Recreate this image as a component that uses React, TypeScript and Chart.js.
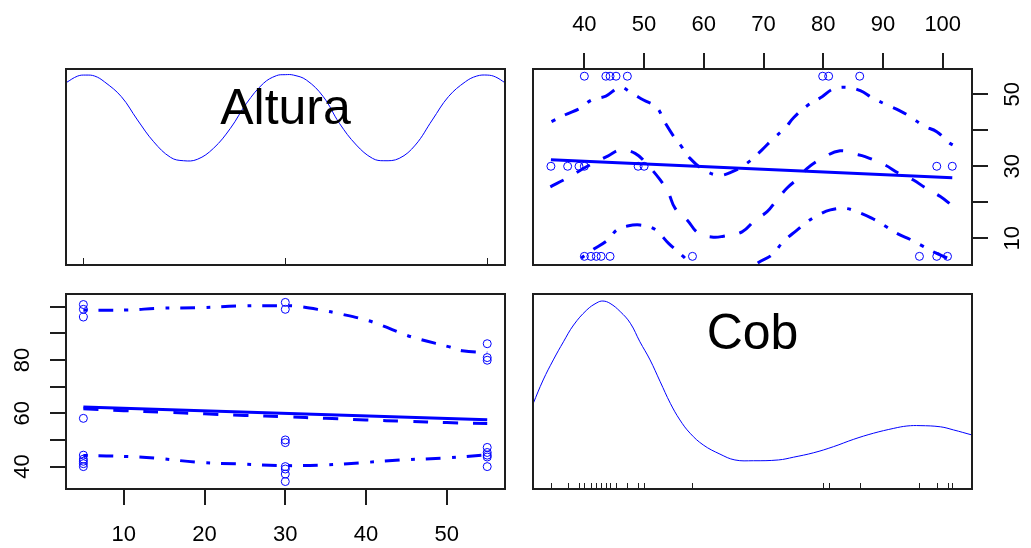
import React, { useEffect, useRef } from "react";
import { Chart, registerables } from "chart.js";

Chart.register(...registerables);

const FONT = "'Liberation Sans', Arial, Helvetica, sans-serif";
const BLUE = "#0000ff";
const INK = "#1e1e1e";

// ---- observations (paired) ----
const altura = [
  5, 5, 5, 5, 5, 5, 5, 5, 5,
  30, 30, 30, 30, 30, 30, 30, 30,
  55, 55, 55, 55, 55, 55, 55, 55,
];
const cob = [
  40.0, 41.1, 42.0, 42.8, 44.3, 58.1, 96.1, 99.0, 100.8,
  34.4, 37.2, 39.1, 40.0, 49.0, 50.0, 99.0, 101.6,
  40.0, 43.6, 44.3, 45.3, 47.2, 79.9, 80.9, 86.1,
];

// ---- tick values / labels ----
const cobTicks = [40, 50, 60, 70, 80, 90, 100];
const cobTopLabels = [40, 50, 60, 70, 80, 90, 100];
const cobLeftLabels = [40, 60, 80];
const alturaTicks = [10, 20, 30, 40, 50];
const alturaBottomLabels = [10, 20, 30, 40, 50];
const alturaRightLabels = [10, 30, 50];

// ---- diagonal: Altura density ----
const alturaDensX = [2.85, 4.3, 5.3, 6.4, 7.6, 9.7, 11.7, 13.7, 15.8, 17.4, 19.1, 21.1, 23.2, 25.2, 27.3, 28.9, 30.0, 31.0, 32.6, 34.7, 36.7, 38.8, 40.8, 42.2, 44.1, 46.1, 48.2, 50.2, 52.3, 53.7, 55.0, 56.0, 57.2];
const alturaDensY = [93.0, 96.4, 96.9, 96.4, 93.5, 85.9, 74.0, 62.9, 54.9, 53.2, 53.9, 59.5, 69.7, 82.5, 92.7, 96.6, 97.1, 96.9, 94.4, 85.9, 72.3, 61.2, 54.4, 53.2, 54.4, 61.2, 74.0, 85.9, 93.5, 96.4, 96.9, 96.0, 93.0];

// ---- diagonal: Cob density ----
const cobDensX = [31.4, 33.1, 34.8, 36.5, 38.2, 40.4, 42.1, 43.1, 44.3, 46.0, 47.7, 49.3, 51.0, 52.7, 54.4, 56.0, 57.7, 59.9, 62.7, 65.2, 68.3, 72.5, 75.0, 78.4, 81.7, 85.1, 88.4, 91.8, 94.0, 96.2, 99.6, 101.8, 104.9];
const cobDensY = [43.6, 55.9, 66.2, 75.5, 84.1, 91.8, 95.5, 96.4, 95.2, 91.0, 85.0, 75.5, 66.2, 55.0, 43.9, 35.4, 28.6, 22.6, 17.9, 14.9, 14.5, 14.9, 16.3, 18.6, 21.7, 25.5, 28.6, 31.1, 32.3, 32.5, 31.9, 30.3, 27.7];

// ---- top-right panel (x = Cob, y = Altura) ----
const trRegCob = [34.4, 101.6];
const trRegAltura = [31.8, 26.8];
const trSmoothCob = [34.3, 37.1, 40.5, 44.0, 46.0, 48.5, 50.5, 52.7, 54.1, 55.2, 57.2, 59.1, 61.6, 63.3, 66.4, 68.6, 70.6, 72.2, 73.9, 76.1, 77.3, 79.8, 82.8, 85.3, 87.0, 90.3, 92.6, 95.1, 97.0, 99.6, 101.8];
const trSmoothAltura = [24.3, 26.7, 30.0, 32.9, 34.5, 33.6, 30.5, 26.2, 22.5, 18.3, 15.1, 11.4, 10.3, 10.6, 11.8, 15.1, 17.4, 20.6, 23.9, 27.1, 29.4, 32.2, 34.3, 33.4, 32.7, 30.4, 28.1, 26.2, 24.1, 21.6, 18.8];
const trUpperCob = [34.5, 36.8, 39.3, 41.2, 43.6, 46.0, 47.9, 49.9, 52.1, 53.4, 55.0, 56.3, 57.7, 60.0, 62.5, 64.5, 67.2, 69.7, 71.7, 73.6, 75.1, 77.3, 79.8, 81.6, 84.0, 86.2, 88.3, 90.7, 92.6, 94.8, 96.8, 99.0, 101.0, 101.8];
const trUpperAltura = [42.4, 44.3, 46.1, 48.4, 49.5, 51.9, 50.3, 48.4, 46.4, 42.4, 38.2, 35.4, 32.2, 29.0, 27.5, 28.3, 30.8, 34.5, 37.8, 40.6, 43.6, 46.8, 49.3, 51.4, 51.9, 51.0, 48.9, 47.0, 45.6, 43.5, 41.2, 39.6, 36.6, 35.8];
const trLowerCob = [34.3, 38.0, 41.1, 43.9, 45.4, 47.2, 49.3, 51.8, 54.1, 56.6, 57.7, 60.0, 63.0, 66.0, 68.9, 71.4, 73.3, 75.6, 77.3, 79.2, 81.2, 83.7, 85.6, 88.1, 90.1, 92.3, 94.8, 96.8, 99.0, 101.8];
const trLowerAltura = [-3.0, 2.5, 6.5, 9.5, 12.3, 13.4, 13.7, 12.5, 8.6, 4.9, 3.0, -1.5, -3.5, -1.5, 3.0, 5.4, 9.1, 12.3, 14.6, 16.5, 17.9, 18.3, 17.4, 15.6, 13.7, 11.4, 9.5, 7.7, 5.8, 3.8];

// ---- bottom-left panel (x = Altura, y = Cob) ----
const blRegAltura = [5, 55];
const blRegCob = [62.4, 57.6];
const blSmoothAltura = [5, 10, 15, 20, 25, 30, 35, 40, 45, 50, 55];
const blSmoothCob = [61.7, 61.0, 60.4, 59.8, 59.2, 58.7, 58.1, 57.5, 57.0, 56.5, 56.2];
const blUpperAltura = [5, 10.7, 14.2, 19.3, 24.4, 29.7, 31.4, 34.9, 36.5, 40.0, 41.8, 44.9, 46.6, 50.2, 51.9, 55];
const blUpperCob = [98.7, 98.75, 99.4, 99.6, 100.25, 100.3, 100.2, 98.5, 97.5, 95.0, 93.1, 89.4, 87.8, 85.0, 83.5, 82.7];
const blLowerAltura = [5, 10.7, 14.2, 19.3, 24.2, 29.5, 34.7, 39.6, 44.5, 49.8, 55];
const blLowerCob = [44.2, 43.75, 43.1, 41.6, 41.0, 40.4, 40.6, 41.5, 42.5, 43.25, 44.4];

const COB_MIN = 31.4;
const COB_MAX = 104.9;
const COB_MIN_Y = 31.6;
const COB_MAX_Y = 104.75;
const ALT_MIN_X = 2.85;
const ALT_MAX_X = 57.2;
const ALT_MIN_Y = 2.6;
const ALT_MAX_Y = 57.0;

const pts = (xs: number[], ys: number[]) => xs.map((x, i) => ({ x, y: ys[i] }));
const unique = (a: number[]) => Array.from(new Set(a)).sort((p, q) => p - q);

const lineDs = (xs: number[], ys: number[], width: number, dash: number[], tension = 0.4) => ({
  data: pts(xs, ys),
  showLine: true,
  borderColor: BLUE,
  backgroundColor: BLUE,
  borderWidth: width,
  borderDash: dash,
  pointRadius: 0,
  pointHoverRadius: 0,
  fill: false,
  tension,
  clip: 0,
  order: 0,
});

const pointDs = (xs: number[], ys: number[]) => ({
  data: pts(xs, ys),
  showLine: false,
  pointStyle: "circle",
  pointRadius: 4,
  pointHoverRadius: 4,
  pointBorderWidth: 1,
  borderColor: BLUE,
  backgroundColor: "rgba(0,0,0,0)",
  pointBorderColor: BLUE,
  pointBackgroundColor: "rgba(0,0,0,0)",
  order: 10,
});

const decorPlugin = {
  id: "decor",
  afterDatasetsDraw(chart: any, _args: any, opts: any) {
    const { ctx, chartArea: a } = chart;
    ctx.save();
    if (opts.rug) {
      const xs = chart.scales.x;
      ctx.strokeStyle = INK;
      ctx.lineWidth = 1;
      opts.rug.forEach((v: number) => {
        const px = Math.round(xs.getPixelForValue(v)) + 0.5;
        ctx.beginPath();
        ctx.moveTo(px, a.bottom);
        ctx.lineTo(px, a.bottom - opts.rugLen);
        ctx.stroke();
      });
    }
    if (opts.label) {
      ctx.font = `50px ${FONT}`;
      ctx.fillStyle = "#000";
      ctx.textAlign = "center";
      ctx.textBaseline = "alphabetic";
      ctx.fillText(opts.label, (a.left + a.right) / 2, a.top + 54.5);
    }
    ctx.strokeStyle = INK;
    ctx.lineWidth = 2;
    ctx.strokeRect(a.left, a.top, a.right - a.left, a.bottom - a.top);
    ctx.restore();
  },
};

const zeroPad = (s: any) => {
  s.paddingLeft = 0;
  s.paddingRight = 0;
  s.paddingTop = 0;
  s.paddingBottom = 0;
};

const hiddenAxis = (min: number, max: number) => ({ type: "linear", display: false, min, max });

const tickAxis = (
  position: string,
  min: number,
  max: number,
  ticks: number[],
  labelled: number[],
  size: number,
  padding: number
) => {
  const vertical = position === "left" || position === "right";
  return {
    type: "linear",
    position,
    min,
    max,
    afterBuildTicks: (s: any) => {
      s.ticks = ticks.map((v) => ({ value: v }));
    },
    afterFit: (s: any) => {
      if (vertical) s.width = size;
      else s.height = size;
      zeroPad(s);
    },
    grid: {
      display: true,
      drawOnChartArea: false,
      drawTicks: true,
      tickLength: 16,
      color: INK,
      lineWidth: 2,
    },
    border: { display: false },
    ticks: {
      autoSkip: false,
      color: "#000",
      font: { family: FONT, size: 22 },
      padding,
      minRotation: vertical ? 90 : 0,
      maxRotation: vertical ? 90 : 0,
      crossAlign: vertical ? "center" : "near",
      callback: (v: any) => (labelled.includes(Number(v)) ? String(v) : ""),
    },
  };
};

const baseOptions = (padding: any, scales: any, decor: any) => ({
  responsive: false,
  maintainAspectRatio: false,
  animation: false,
  devicePixelRatio: 1,
  events: [],
  layout: { padding },
  plugins: { legend: { display: false }, tooltip: { enabled: false }, decor },
  scales,
});

const configTL = () => ({
  type: "scatter",
  data: { datasets: [lineDs(alturaDensX, alturaDensY, 1, [])] },
  options: baseOptions(
    6,
    { x: hiddenAxis(ALT_MIN_X, ALT_MAX_X), y: hiddenAxis(0, 100) },
    { rug: unique(altura), rugLen: 7, label: "Altura" }
  ),
  plugins: [decorPlugin],
});

const configBR = () => ({
  type: "scatter",
  data: { datasets: [lineDs(cobDensX, cobDensY, 1, [])] },
  options: baseOptions(
    6,
    { x: hiddenAxis(COB_MIN, COB_MAX), y: hiddenAxis(0, 100) },
    { rug: unique(cob), rugLen: 6, label: "Cob" }
  ),
  plugins: [decorPlugin],
});

const configTR = () => ({
  type: "scatter",
  data: {
    datasets: [
      pointDs(cob, altura),
      lineDs(trRegCob, trRegAltura, 3, [], 0),
      lineDs(trSmoothCob, trSmoothAltura, 3, [15, 15]),
      lineDs(trUpperCob, trUpperAltura, 3, [4, 11, 15, 11]),
      lineDs(trLowerCob, trLowerAltura, 3, [4, 11, 15, 11]),
    ],
  },
  options: baseOptions(
    { left: 6, bottom: 6, top: 0, right: 0 },
    {
      x: tickAxis("top", COB_MIN, COB_MAX, cobTicks, cobTopLabels, 69, 15),
      y: tickAxis("right", ALT_MIN_Y, ALT_MAX_Y, alturaTicks, alturaRightLabels, 59, 13),
    },
    {}
  ),
  plugins: [decorPlugin],
});

const configBL = () => ({
  type: "scatter",
  data: {
    datasets: [
      pointDs(altura, cob),
      lineDs(blRegAltura, blRegCob, 3, [], 0),
      lineDs(blSmoothAltura, blSmoothCob, 3, [15, 15]),
      lineDs(blUpperAltura, blUpperCob, 3, [4, 11, 15, 11]),
      lineDs(blLowerAltura, blLowerCob, 3, [4, 11, 15, 11]),
    ],
  },
  options: baseOptions(
    { left: 0, bottom: 0, top: 6, right: 6 },
    {
      x: tickAxis("bottom", ALT_MIN_X, ALT_MAX_X, alturaTicks, alturaBottomLabels, 59, 17),
      y: tickAxis("left", COB_MIN_Y, COB_MAX_Y, cobTicks, cobLeftLabels, 66, 15),
    },
    {}
  ),
  plugins: [decorPlugin],
});

function Panel(props: { left: number; top: number; width: number; height: number; make: () => any }) {
  const ref = useRef<HTMLCanvasElement>(null);
  useEffect(() => {
    const chart = new Chart(ref.current as HTMLCanvasElement, props.make() as any);
    return () => chart.destroy();
  }, []);
  return (
    <canvas
      ref={ref}
      width={props.width}
      height={props.height}
      style={{ position: "absolute", left: props.left, top: props.top, width: props.width, height: props.height }}
    />
  );
}

export default function App() {
  return (
    <div style={{ position: "absolute", left: 0, top: 0, width: 1031, height: 548, background: "#fff", overflow: "hidden" }}>
      <Panel left={60} top={63} width={451} height={208} make={configTL} />
      <Panel left={527} top={0} width={504} height={271} make={configTR} />
      <Panel left={0} top={288} width={511} height={260} make={configBL} />
      <Panel left={527} top={288} width={451} height={207} make={configBR} />
    </div>
  );
}
